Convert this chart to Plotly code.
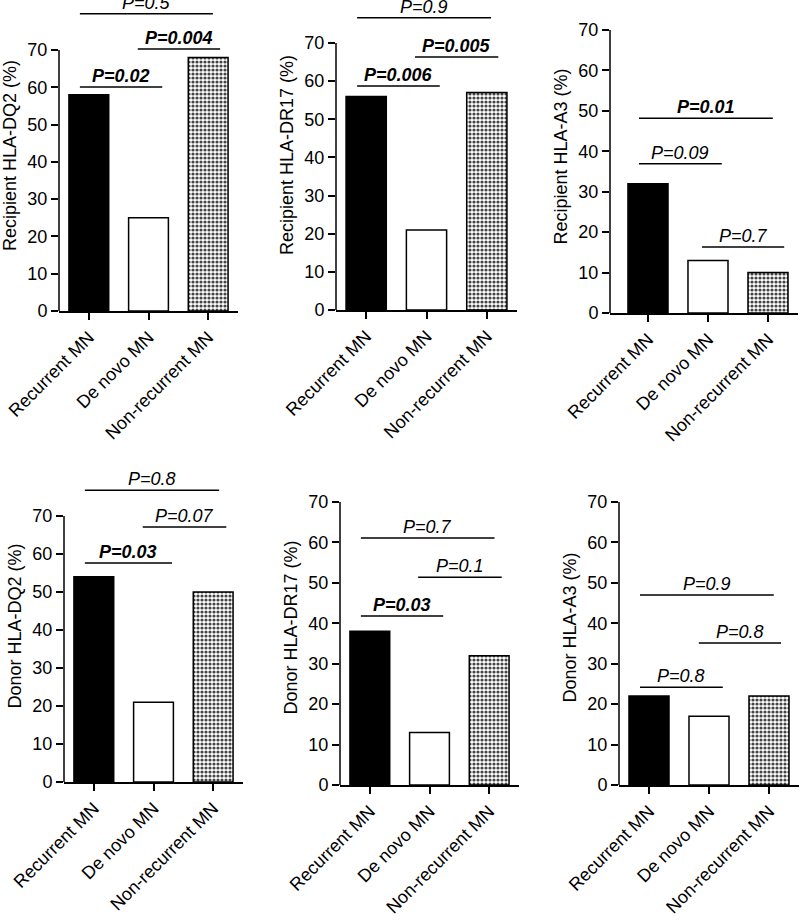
import plotly.graph_objects as go

# ---------------- data ----------------
categories = ["Recurrent MN", "De novo MN", "Non-recurrent MN"]
y_titles = ["Recipient HLA-DQ2 (%)", "Recipient HLA-DR17 (%)", "Recipient HLA-A3 (%)",
            "Donor HLA-DQ2 (%)", "Donor HLA-DR17 (%)", "Donor HLA-A3 (%)"]
y_ticks = [0, 10, 20, 30, 40, 50, 60, 70]

recipient_dq2 = [58, 25, 68]
recipient_dr17 = [56, 21, 57]
recipient_a3 = [32, 13, 10]
donor_dq2 = [54, 21, 50]
donor_dr17 = [38, 13, 32]
donor_a3 = [22, 17, 22]

# p-values: [all three groups, Recurrent vs De novo, De novo vs Non-recurrent]
p_recipient_dq2 = [0.5, 0.02, 0.004]
p_recipient_dr17 = [0.9, 0.006, 0.005]
p_recipient_a3 = [0.01, 0.09, 0.7]
p_donor_dq2 = [0.8, 0.03, 0.07]
p_donor_dr17 = [0.7, 0.03, 0.1]
p_donor_a3 = [0.9, 0.8, 0.8]

values = [recipient_dq2, recipient_dr17, recipient_a3, donor_dq2, donor_dr17, donor_a3]
pvals = [p_recipient_dq2, p_recipient_dr17, p_recipient_a3, p_donor_dq2, p_donor_dr17, p_donor_a3]

# ---------------- layout geometry (pixels of an 800x921 canvas) ----------------
W, H = 800, 921
# (x_left_px, x_right_px, x_range_left, y_zero_px, y_70_px, top_px)
geom = [
    (59, 238, -0.5, 311, 50, 0),
    (336, 517, -0.5, 310, 43, 0),
    (610, 798, -0.633, 313, 30, 0),
    (64, 243, -0.5, 782, 516, 470),
    (340, 519, -0.5, 785, 502, 470),
    (619, 799, -0.5, 785, 502, 470),
]
# bracket placement (x0, x1, y) for each p-value, same order as pvals
brackets = [
    [(-0.15, 2.08, 79.7), (-0.15, 1.23, 60.1), (0.82, 2.20, 70.3)],
    [(-0.15, 2.07, 76.6), (-0.15, 1.22, 58.7), (0.81, 2.19, 66.3)],
    [(-0.15, 2.08, 48.2), (-0.15, 1.23, 36.9), (0.90, 2.27, 16.3)],
    [(-0.15, 2.10, 76.8), (-0.15, 1.31, 57.6), (0.82, 2.22, 67.1)],
    [(-0.15, 2.09, 61.1), (-0.15, 1.23, 41.8), (0.81, 2.21, 51.4)],
    [(-0.15, 2.08, 47.0), (-0.15, 1.23, 24.2), (0.83, 2.20, 35.1)],
]

FONT = "Arial, Liberation Sans, Helvetica, sans-serif"
fig = go.Figure()
shapes = []
annotations = []

for i in range(6):
    n = "" if i == 0 else str(i + 1)
    xa, ya = "x" + n, "y" + n
    xl, xr, xrl, y0p, y70p, topp = geom[i]
    ymax = 70.0 * (y0p - topp) / (y0p - y70p)

    fig.add_trace(go.Bar(
        x=categories, y=values[i], xaxis=xa, yaxis=ya, width=0.667,
        marker=dict(
            color=["black", "white", "white"],
            line=dict(color="black", width=1.5),
            pattern=dict(shape=["", "", "."], fgcolor="black", bgcolor="white",
                         fillmode="overlay", fgopacity=1, size=4, solidity=0.5),
        ),
        showlegend=False, hoverinfo="x+y",
    ))

    fig.update_layout({
        "xaxis" + n: dict(
            domain=[xl / W, xr / W], anchor=ya, range=[xrl, 2.5], automargin=False,
            type="category", showline=True, linecolor="black", linewidth=1.5,
            ticks="outside", ticklen=7, tickwidth=1.5, tickcolor="black",
            tickangle=-45, showgrid=False, zeroline=False,
            tickfont=dict(family=FONT, size=18, color="black"),
        ),
        "yaxis" + n: dict(
            domain=[1 - y0p / H, 1 - topp / H], anchor=xa, range=[0, ymax],
            automargin=False,
            tickvals=y_ticks, ticks="outside", ticklen=7, tickwidth=1.5,
            tickcolor="black", showline=False, showgrid=False, zeroline=False,
            tickfont=dict(family=FONT, size=18, color="black"),
            title=dict(text=y_titles[i], font=dict(family=FONT, size=18, color="black"),
                       standoff=6),
        ),
    })

    # y axis line only from 0 to 70
    shapes.append(dict(type="line", xref=xa + " domain", yref=ya, x0=0, x1=0,
                       y0=0, y1=70, line=dict(color="black", width=1.5)))

    for p, (bx0, bx1, by) in zip(pvals[i], brackets[i]):
        shapes.append(dict(type="line", xref=xa, yref=ya, x0=bx0, x1=bx1, y0=by, y1=by,
                           line=dict(color="black", width=1.5)))
        label = "P=" + ("%g" % p)
        txt = "<i><b>%s</b></i>" % label if p < 0.05 else "<i>%s</i>" % label
        annotations.append(dict(xref=xa, yref=ya, x=(bx0 + bx1) / 2, y=by, text=txt,
                                showarrow=False, yanchor="bottom", xanchor="center",
                                yshift=-1,
                                font=dict(family=FONT, size=18, color="black")))

fig.update_layout(
    template="none",
    width=W, height=H, margin=dict(l=0, r=0, t=0, b=0, autoexpand=False),
    paper_bgcolor="white", plot_bgcolor="white",
    shapes=shapes, annotations=annotations, bargap=0.333,
    font=dict(family=FONT, size=18, color="black"),
)

fig.write_html("out.html", config={"displayModeBar": False},
               post_script="document.body.style.margin='0';"
                           "document.body.style.overflow='hidden';")
